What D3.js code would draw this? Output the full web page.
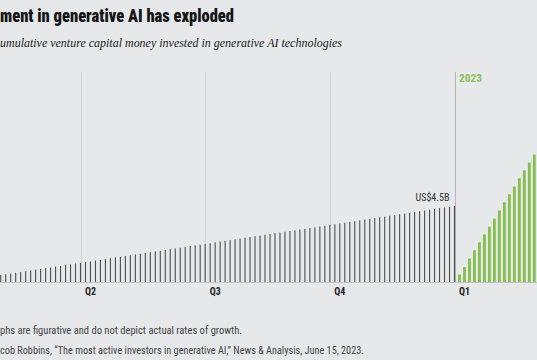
<!DOCTYPE html>
<html><head><meta charset="utf-8">
<script src="https://cdn.jsdelivr.net/npm/d3@7"></script>
<style>html,body{margin:0;padding:0;background:#e7e8ea;}svg{display:block;}</style>
</head><body>
<script>
// ---- data ----
const titleText = "ment in generative AI has exploded";
const subtitleText = "umulative venture capital money invested in generative AI technologies";
const note1 = "phs are figurative and do not depict actual rates of growth.";
const note2 = "cob Robbins, \u201CThe most active investors in generative AI,\u201D News & Analysis, June 15, 2023.";
const quarterLabels = ["Q2", "Q3", "Q4", "Q1"];
const quarterStarts = [0, 25, 50, 75];            // bar index where each quarter starts
const firstIndex2022 = -16;                        // index of the first visible 2022 bar
const values2022 = [
 0.41,0.46,0.50,0.55,0.59,0.64,0.68,0.73,0.77,0.82,0.86,0.91,0.95,1.00,1.04,1.09,
 1.13,1.18,1.22,1.27,1.31,1.36,1.40,1.45,1.49,1.54,1.58,1.63,1.67,1.72,1.76,1.81,
 1.85,1.90,1.94,1.99,2.03,2.08,2.13,2.17,2.21,2.26,2.30,2.35,2.39,2.44,2.48,2.53,
 2.57,2.62,2.66,2.71,2.75,2.80,2.84,2.89,2.93,2.97,3.02,3.06,3.11,3.15,3.20,3.24,
 3.29,3.33,3.38,3.42,3.47,3.51,3.56,3.60,3.65,3.69,3.74,3.78,3.83,3.87,3.92,3.96,
 4.01,4.05,4.10,4.14,4.19,4.23,4.28,4.32,4.37,4.41,4.46,4.50];
const firstIndex2023 = 76;
const values2023 = [0.44,0.89,1.39,1.88,2.35,2.81,3.28,3.75,4.23,4.72,5.19,5.65,6.14,6.61,7.07,7.54];
const lastLabel = "US$4.5B";
const yearLabel = "2023";

// ---- chart ----
const W = 537, H = 360;
const svg = d3.select("body").append("svg").attr("width", W).attr("height", H);
svg.append("rect").attr("width", W).attr("height", H).attr("fill", "#e7e8ea");

const x = d3.scaleLinear().domain([0, 75]).range([80.5, 454.5]);
const y = d3.scaleLinear().domain([0, 4.5]).range([282, 206]);

const condensed = "'Roboto Condensed','Liberation Sans Narrow','DejaVu Sans Condensed',Roboto,sans-serif";

// title & subtitle
svg.append("text").attr("x", 0).attr("y", 22.3).text(titleText)
  .attr("font-family", condensed).attr("font-weight", 900).attr("font-size", 17.5)
  .attr("fill", "#151515").attr("textLength", 234).attr("lengthAdjust", "spacingAndGlyphs");
svg.append("text").attr("x", 0).attr("y", 46.5).text(subtitleText)
  .attr("font-family", "'Liberation Serif',serif").attr("font-style", "italic").attr("font-size", 12)
  .attr("fill", "#222").attr("textLength", 342).attr("lengthAdjust", "spacingAndGlyphs");

// gridlines
svg.selectAll("line.grid").data(quarterStarts).join("line").attr("class", "grid")
  .attr("x1", d => Math.round(x(d)) + 0.5).attr("x2", d => Math.round(x(d)) + 0.5)
  .attr("y1", 72).attr("y2", 282)
  .attr("stroke", (d, i) => i === 3 ? "#b4b4b4" : "#d2d3d5").attr("stroke-width", 1);

// baseline
svg.append("line").attr("x1", 0).attr("x2", W).attr("y1", 282.5).attr("y2", 282.5)
  .attr("stroke", "#c4c5c7").attr("stroke-width", 1);

// 2022 bars
svg.selectAll("rect.b22").data(values2022).join("rect").attr("class", "b22")
  .attr("x", (d, i) => x(firstIndex2022 + i) - 0.55).attr("width", 1.1)
  .attr("y", d => y(d)).attr("height", d => y(0) - y(d)).attr("fill", "#4e4e4e");

// 2023 bars
svg.selectAll("rect.b23").data(values2023).join("rect").attr("class", "b23")
  .attr("x", (d, i) => x(firstIndex2023 + i) - 1.4).attr("width", 2.8)
  .attr("y", d => y(d)).attr("height", d => y(0) - y(d)).attr("fill", "#86bf4e");

// quarter labels
svg.selectAll("text.q").data(quarterLabels).join("text").attr("class", "q")
  .attr("x", (d, i) => x(quarterStarts[i]) + 4.5).attr("y", 294.5).text(d => d)
  .attr("font-family", condensed).attr("font-weight", 700).attr("font-size", 11)
  .attr("fill", "#222").attr("textLength", 11).attr("lengthAdjust", "spacingAndGlyphs");

// value label
svg.append("text").attr("x", x(75) - 5).attr("y", 201).attr("text-anchor", "end").text(lastLabel)
  .attr("font-family", condensed).attr("font-size", 11).attr("fill", "#333")
  .attr("textLength", 34).attr("lengthAdjust", "spacingAndGlyphs");

// year label
svg.append("text").attr("x", x(75) + 4.5).attr("y", 81.5).text(yearLabel)
  .attr("font-family", condensed).attr("font-weight", 700).attr("font-size", 11)
  .attr("fill", "#8cc25a").attr("textLength", 23).attr("lengthAdjust", "spacingAndGlyphs");

// notes
svg.append("text").attr("x", 0).attr("y", 333.5).text(note1)
  .attr("font-family", condensed).attr("font-size", 10).attr("fill", "#444")
  .attr("textLength", 242).attr("lengthAdjust", "spacingAndGlyphs");
svg.append("text").attr("x", 0).attr("y", 353.5).text(note2)
  .attr("font-family", condensed).attr("font-size", 10).attr("fill", "#444")
  .attr("textLength", 364).attr("lengthAdjust", "spacingAndGlyphs");
</script>
</body></html>
